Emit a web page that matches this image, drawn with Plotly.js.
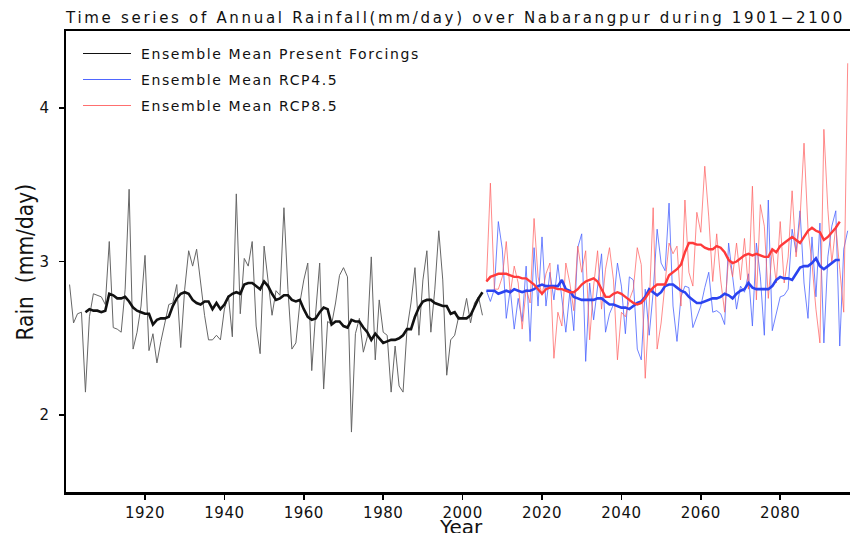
<!DOCTYPE html>
<html><head><meta charset="utf-8">
<script src="https://cdn.plot.ly/plotly-3.0.1.min.js"></script>
<style>
html,body{margin:0;padding:0;background:#fff;}
#chart{width:850px;height:533px;}
.gtitle{letter-spacing:2.7px;}
.xtick text,.ytick text{letter-spacing:0.5px;}
.annotation[data-index="0"] .annotation-text,
.annotation[data-index="1"] .annotation-text,
.annotation[data-index="2"] .annotation-text{letter-spacing:1.6px;}
</style></head><body><div id="chart"></div>
<script>
// ---- data ----
const histStart = 1901;
const histRain = [
 2.85,2.60,2.66,2.67,2.15,2.64,2.79,2.78,2.77,2.72, 3.13,2.57,2.56,2.54,2.82,3.47,2.43,2.54,2.71,3.04,
 2.42,2.53,2.34,2.48,2.61,2.72,2.73,2.85,2.44,2.82, 3.07,2.97,3.08,2.86,2.65,2.49,2.49,2.52,2.49,2.69,
 2.78,2.51,3.44,2.66,3.02,2.97,3.13,2.58,2.40,3.10, 2.87,2.65,2.81,2.78,3.35,2.82,2.43,2.47,2.73,2.88,
 2.99,2.29,2.67,2.99,2.17,2.61,2.59,2.73,2.91,2.96, 2.90,1.89,2.53,2.63,2.41,2.51,3.03,2.36,2.75,2.54,
 2.52,2.15,2.45,2.19,2.15,2.56,2.73,2.96,2.52,2.88, 3.07,2.54,2.82,3.20,2.88,2.26,2.49,2.52,2.64,2.63,
 2.76,2.60,2.73,2.77,2.65
];
const histSmoothStart = 1905;
const histSmooth = [
 2.67,2.69,2.68,2.68,2.67,2.68,2.79,2.78,2.76,2.76, 2.77,2.74,2.70,2.68,2.67,2.66,2.66,2.59,2.62,2.63,
 2.63,2.64,2.71,2.76,2.79,2.80,2.79,2.75,2.73,2.72, 2.74,2.74,2.69,2.73,2.69,2.72,2.77,2.79,2.80,2.79,
 2.85,2.86,2.86,2.84,2.82,2.87,2.84,2.79,2.75,2.76, 2.78,2.78,2.75,2.74,2.75,2.69,2.64,2.62,2.63,2.67,
 2.70,2.69,2.59,2.61,2.61,2.58,2.57,2.62,2.61,2.61, 2.57,2.54,2.49,2.53,2.50,2.47,2.48,2.49,2.49,2.50,
 2.52,2.56,2.56,2.64,2.70,2.74,2.75,2.75,2.73,2.72, 2.71,2.71,2.66,2.67,2.63,2.63,2.63,2.65,2.71,2.76,
 2.80
];
const futStart = 2006;
const rcp45Rain = [
 2.81,2.74,2.82,3.26,3.08,2.63,2.82,2.56,2.76,2.61, 2.97,2.48,3.09,2.71,3.16,2.71,2.93,2.75,2.98,2.75,
 2.54,2.80,2.55,3.09,3.18,2.35,2.86,2.62,2.84,3.05, 2.54,2.66,2.72,2.99,2.84,2.53,2.90,2.88,2.43,2.36,
 2.82,2.52,2.80,3.21,2.99,2.94,3.38,2.71,2.48,2.77, 2.84,2.83,2.57,2.64,2.71,2.83,2.93,2.67,2.68,2.66,
 2.59,3.12,2.89,2.69,2.84,2.80,2.92,2.58,3.12,2.90, 2.52,3.40,2.55,2.67,2.77,2.78,2.82,3.21,3.06,3.33,
 2.86,2.63,3.16,2.77,3.25,2.47,3.03,3.23,3.33,2.45, 3.08,3.20
];
const rcp85Rain = [
 2.87,3.51,2.82,2.82,2.90,3.13,2.79,2.97,2.86,2.56, 2.82,2.73,3.28,2.90,2.78,2.92,2.99,2.37,2.67,2.58,
 2.99,2.86,2.68,3.10,2.93,3.07,2.49,2.84,3.07,2.69, 2.95,3.09,2.88,2.36,2.67,2.64,2.75,2.82,3.09,2.98,
 2.24,2.71,3.35,2.43,2.60,2.84,3.12,3.05,3.10,2.71, 3.40,2.93,2.84,3.32,3.19,3.62,3.29,2.87,3.18,2.88,
 2.67,3.03,2.90,3.12,2.88,3.15,2.82,3.49,2.75,3.37, 3.23,2.76,3.08,2.86,3.26,2.86,3.03,3.46,3.03,3.28,
 3.77,3.21,2.99,2.69,2.47,3.86,3.34,2.99,3.23,2.95, 2.67,4.29
];
const futSmoothStart = 2006;
const rcp45Smooth = [
 2.81,2.81,2.81,2.79,2.80,2.81,2.80,2.82,2.81,2.80, 2.81,2.81,2.82,2.84,2.85,2.84,2.84,2.84,2.84,2.88,
 2.82,2.81,2.77,2.76,2.75,2.75,2.75,2.75,2.76,2.76, 2.74,2.72,2.72,2.71,2.70,2.70,2.69,2.71,2.73,2.74,
 2.77,2.82,2.80,2.78,2.80,2.84,2.85,2.85,2.83,2.81, 2.80,2.77,2.75,2.73,2.73,2.74,2.75,2.76,2.76,2.77,
 2.79,2.78,2.76,2.79,2.81,2.82,2.86,2.83,2.82,2.82, 2.82,2.82,2.84,2.88,2.90,2.89,2.89,2.88,2.92,2.96,
 2.97,2.97,2.99,3.02,2.97,2.95,2.97,2.99,3.01,3.01
];
const rcp85Smooth = [
 2.87,2.90,2.91,2.92,2.92,2.92,2.91,2.90,2.90,2.89, 2.89,2.87,2.85,2.82,2.79,2.82,2.83,2.83,2.82,2.82,
 2.81,2.80,2.80,2.82,2.85,2.87,2.88,2.89,2.87,2.82, 2.77,2.77,2.79,2.80,2.79,2.77,2.75,2.73,2.72,2.73,
 2.76,2.80,2.83,2.85,2.85,2.85,2.91,2.93,2.95,2.98, 3.06,3.12,3.12,3.11,3.11,3.09,3.08,3.08,3.10,3.09,
 3.06,3.01,2.99,3.00,3.02,3.04,3.05,3.04,3.05,3.04, 3.03,3.03,3.08,3.06,3.10,3.12,3.14,3.16,3.14,3.12,
 3.16,3.20,3.22,3.20,3.19,3.14,3.16,3.19,3.22,3.26
];
const seriesNames = ['Ensemble Mean Present Forcings','Ensemble Mean RCP4.5','Ensemble Mean RCP8.5'];
const thinColors = ['#666666','rgba(75,100,255,0.8)','rgba(255,100,100,0.75)'];
const legendColors = ['#111111','#4f66ff','#ff6f6f'];
const thickColors = ['#111111','#2b43f0','#ff3a3a'];
const xTickVals = [1920,1940,1960,1980,2000,2020,2040,2060,2080];
const yTickVals = [2,3,4];
const chartTitle = 'Time series of Annual Rainfall(mm/day) over Nabarangpur during 1901\u22122100';

function yearsFrom(start, arr){ return arr.map((_, k) => start + k); }

const traces = [
  {x: yearsFrom(histStart, histRain), y: histRain, line:{color:thinColors[0], width:1}},
  {x: yearsFrom(futStart, rcp45Rain), y: rcp45Rain, line:{color:thinColors[1], width:1}},
  {x: yearsFrom(futStart, rcp85Rain), y: rcp85Rain, line:{color:thinColors[2], width:1}},
  {x: yearsFrom(histSmoothStart, histSmooth), y: histSmooth, line:{color:thickColors[0], width:2.6}},
  {x: yearsFrom(futSmoothStart, rcp45Smooth), y: rcp45Smooth, line:{color:thickColors[1], width:2.6}},
  {x: yearsFrom(futSmoothStart, rcp85Smooth), y: rcp85Smooth, line:{color:thickColors[2], width:2.4}}
].map(t => Object.assign({type:'scatter', mode:'lines', hoverinfo:'skip', showlegend:false}, t));

// legend + axis titles placed in paper coordinates (plot area: x 66..850, y 31..492)
const W = 784, H = 461, L = 66, T = 31;
const px = v => (v - L) / W;
const py = v => 1 - (v - T) / H;
const legendY = [53.5, 79.5, 105.5];
const shapes = [], annotations = [];
seriesNames.forEach((nm, k) => {
  shapes.push({type:'line', xref:'paper', yref:'paper', x0:px(83), x1:px(131), y0:py(legendY[k]), y1:py(legendY[k]),
    line:{color:legendColors[k], width:1}});
  annotations.push({xref:'paper', yref:'paper', x:px(139), y:py(legendY[k]), xanchor:'left', yanchor:'middle', align:'left',
    text:nm, showarrow:false, font:{family:'DejaVu Sans', size:14, color:'#111'}});
});
annotations.push({xref:'paper', yref:'paper', x:px(24), y:py(262.5), xanchor:'center', yanchor:'middle', textangle:-90,
  text:'Rain  (mm/day)', showarrow:false, font:{family:'Liberation Sans Narrow, DejaVu Sans Condensed, DejaVu Sans', size:22.5, color:'#111'}});
annotations.push({xref:'paper', yref:'paper', x:px(461), y:py(513), xanchor:'center', yanchor:'top',
  text:'Year', showarrow:false, font:{family:'DejaVu Sans', size:20, color:'#111'}});

const axisCommon = {showgrid:false, zeroline:false, ticks:'outside', ticklen:5, tickwidth:1.5, tickcolor:'#000',
  linecolor:'#000', linewidth:2.5, tickfont:{family:'DejaVu Sans', size:15, color:'#111'}, fixedrange:true};

const layout = {
  width:850, height:533, paper_bgcolor:'#fff', plot_bgcolor:'#fff',
  margin:{l:L, r:0, t:T, b:41, pad:0},
  title:{text:chartTitle, x:66/850, xanchor:'left', xref:'container', y:1-18/533, yanchor:'middle', yref:'container',
    font:{family:'DejaVu Sans', size:15, color:'#111'}},
  xaxis:Object.assign({}, axisCommon, {range:[1900.1, 2097.58], tickmode:'array', tickvals:xTickVals, mirror:true}),
  yaxis:Object.assign({}, axisCommon, {range:[1.5, 4.5], tickmode:'array', tickvals:yTickVals, ticklabelstandoff:6}),
  shapes, annotations, showlegend:false
};
Plotly.newPlot('chart', traces, layout, {displayModeBar:false, staticPlot:true});
</script></body></html>
